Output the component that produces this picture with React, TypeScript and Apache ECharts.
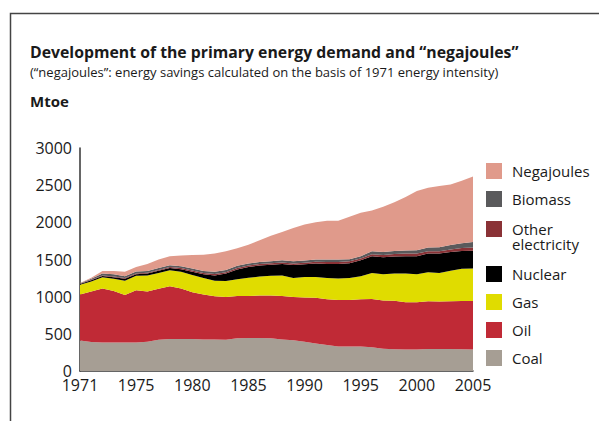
import React, { useEffect, useRef } from "react";
import * as echarts from "echarts";

// Year positions (the axis origin is labelled "1971" in the reference)
const years = [
  1970, 1971, 1972, 1973, 1974, 1975, 1976, 1977, 1978, 1979,
  1980, 1981, 1982, 1983, 1984, 1985, 1986, 1987, 1988, 1989,
  1990, 1991, 1992, 1993, 1994, 1995, 1996, 1997, 1998, 1999,
  2000, 2001, 2002, 2003, 2004, 2005,
];
const xTickLabels: Record<string, string> = {
  "1970": "1971", "1975": "1975", "1980": "1980", "1985": "1985",
  "1990": "1990", "1995": "1995", "2000": "2000", "2005": "2005",
};

const coal = [
  410, 390, 385, 385, 385, 385, 395, 420, 430, 430,
  430, 425, 425, 420, 440, 445, 445, 440, 425, 415,
  395, 370, 350, 330, 330, 330, 320, 300, 292, 290,
  290, 295, 295, 295, 293, 290,
];
const oil = [
  620, 680, 725, 690, 637, 700, 675, 685, 710, 680,
  630, 605, 580, 575, 570, 565, 570, 575, 585, 580,
  595, 615, 615, 625, 625, 635, 650, 650, 653, 635,
  635, 645, 640, 645, 649, 651,
];
const gas = [
  130, 135, 150, 165, 193, 195, 215, 215, 215, 225,
  230, 220, 210, 215, 225, 245, 255, 265, 275, 255,
  275, 280, 285, 290, 295, 310, 350, 350, 365, 385,
  375, 390, 385, 410, 433, 437,
];
const nuclear = [
  10, 17, 18, 22, 25, 20, 25, 28, 30, 35,
  45, 50, 70, 100, 130, 145, 150, 150, 155, 175,
  170, 180, 190, 195, 200, 215, 225, 230, 230, 235,
  245, 250, 260, 250, 240, 240,
];
const otherElectricity = [
  5, 6, 8, 10, 12, 12, 12, 12, 14, 15,
  17, 18, 20, 20, 20, 18, 20, 20, 20, 20,
  20, 25, 25, 25, 25, 25, 25, 30, 35, 35,
  35, 30, 30, 35, 40, 42,
];
const biomass = [
  5, 12, 24, 28, 23, 25, 23, 25, 25, 25,
  26, 27, 30, 30, 30, 27, 25, 28, 30, 30,
  30, 30, 35, 35, 30, 30, 40, 40, 40, 40,
  45, 50, 55, 60, 65, 75,
];
const negajoules = [
  5, 15, 35, 45, 60, 63, 95, 115, 121, 145,
  182, 220, 245, 250, 235, 255, 295, 342, 380, 450,
  485, 500, 520, 520, 570, 585, 550, 610, 655, 720,
  795, 805, 825, 815, 840, 880,
];

const seriesNames = ["Coal", "Oil", "Gas", "Nuclear", "Other electricity", "Biomass", "Negajoules"];
const seriesValues = [coal, oil, gas, nuclear, otherElectricity, biomass, negajoules];
const seriesColors = ["#a69e94", "#c02a36", "#e0dc00", "#000000", "#8a3236", "#5a5a5c", "#e09a8b"];

const FONT = "'Open Sans', 'Noto Sans', sans-serif";
const TEXT = "#1a1a1a";

export default function App() {
  const ref = useRef<HTMLDivElement>(null);

  useEffect(() => {
    if (!ref.current) return;
    const chart = echarts.init(ref.current, undefined, { renderer: "svg" });

    const series = seriesNames.map((name, i) => ({
      name,
      type: "line",
      stack: "total",
      symbol: "none",
      lineStyle: { width: 0 },
      areaStyle: { color: seriesColors[i], opacity: 1 },
      itemStyle: { color: seriesColors[i] },
      data: seriesValues[i],
      z: 2,
    }));

    const legendBase = {
      orient: "vertical",
      left: 486,
      padding: 0,
      itemWidth: 16,
      itemHeight: 16,
      itemGap: 12,
      icon: "rect",
      selectedMode: false,
      textStyle: { fontFamily: FONT, fontSize: 15, color: TEXT, lineHeight: 16, padding: [0, 0, 0, 5] },
    };

    chart.setOption({
      animation: false,
      textStyle: { fontFamily: FONT },
      title: [
        {
          text: "Development of the primary energy demand and \u201cnegajoules\u201d",
          left: 30, top: 44, padding: 0,
          textStyle: { fontFamily: FONT, fontSize: 15.8, fontWeight: "bold", color: TEXT },
        },
        {
          text: "(\u201cnegajoules\u201d: energy savings calculated on the basis of 1971 energy intensity)",
          left: 30, top: 65, padding: 0,
          textStyle: { fontFamily: FONT, fontSize: 13, fontWeight: "normal", color: TEXT },
        },
        {
          text: "Mtoe",
          left: 30, top: 93, padding: 0,
          textStyle: { fontFamily: FONT, fontSize: 15, fontWeight: "bold", color: TEXT },
        },
      ],
      legend: [
        { ...legendBase, top: 163, data: ["Negajoules", "Biomass"] },
        {
          ...legendBase,
          top: 206.5,
          data: ["Other electricity"],
          formatter: () => "{o|Other}\n{e|electricity}",
          textStyle: {
            fontFamily: FONT,
            fontSize: 15,
            color: TEXT,
            padding: [0, 0, 0, 5],
            rich: {
              o: { fontFamily: FONT, fontSize: 15, color: TEXT, height: 15, lineHeight: 30, padding: [15, 0, 0, 0] },
              e: { fontFamily: FONT, fontSize: 15, color: TEXT, height: 15, lineHeight: 15 },
            },
          },
        },
        { ...legendBase, top: 266, data: ["Nuclear", "Gas", "Oil", "Coal"] },
      ],
      grid: { left: 80, right: 126, top: 148, bottom: 50 },
      xAxis: {
        type: "category",
        boundaryGap: false,
        data: years.map(String),
        axisLine: { show: true, lineStyle: { color: "#333", width: 1.5 } },
        axisTick: { show: false },
        splitLine: { show: false },
        axisLabel: {
          margin: 6,
          fontFamily: FONT,
          fontSize: 16,
          color: TEXT,
          interval: (_idx: number, val: string) => val in xTickLabels,
          formatter: (v: string) => xTickLabels[v] ?? "",
        },
      },
      yAxis: {
        type: "value",
        min: 0,
        max: 3000,
        interval: 500,
        axisLine: { show: true, lineStyle: { color: "#333", width: 1.5 } },
        axisTick: { show: false },
        splitLine: { show: false },
        axisLabel: { margin: 8, fontFamily: FONT, fontSize: 16, color: TEXT, formatter: (v: number) => String(v) },
      },
      graphic: [
        {
          type: "rect",
          silent: true,
          shape: { x: 10.5, y: 13.5, width: 800, height: 600 },
          style: { fill: "none", stroke: "#444", lineWidth: 1.5 },
          z: -10,
        },
      ],
      series,
    });

    return () => chart.dispose();
  }, []);

  return (
    <div
      ref={ref}
      style={{ position: "fixed", left: 0, top: 0, width: 599, height: 421, background: "#fff" }}
    />
  );
}
